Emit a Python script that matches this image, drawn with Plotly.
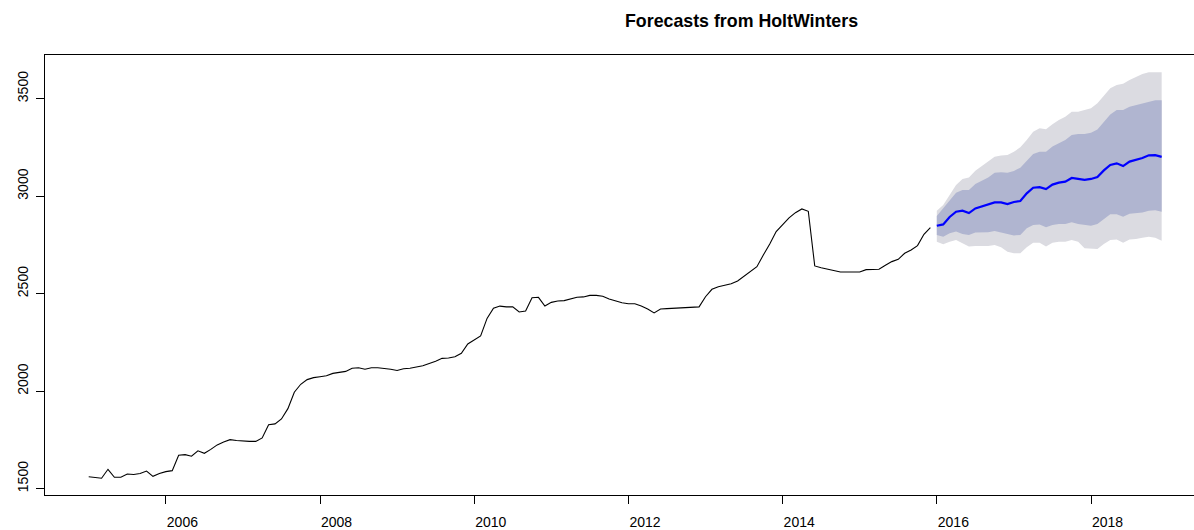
import plotly.graph_objects as go
import numpy as np

# Observed monthly series, Jan 2005 .. Dec 2015
obs_start = 2005.0
observed = [
    1563, 1560, 1555, 1601, 1560, 1560, 1577, 1574, 1579, 1592, 1565, 1579,
    1589, 1594, 1673, 1676, 1668, 1696, 1683, 1703, 1726, 1741, 1753, 1749,
    1746, 1744, 1744, 1762, 1830, 1834, 1859, 1912, 1996, 2037, 2061, 2071,
    2076, 2081, 2093, 2098, 2103, 2119, 2122, 2114, 2122, 2122, 2119, 2114,
    2108, 2117, 2119, 2127, 2132, 2144, 2155, 2170, 2172, 2178, 2196, 2244,
    2264, 2285, 2375, 2427, 2438, 2434, 2434, 2408, 2413, 2481, 2483, 2438,
    2457, 2464, 2466, 2474, 2483, 2485, 2493, 2493, 2488, 2474, 2464, 2455,
    2450, 2450, 2438, 2423, 2403, 2423, 2425, 2427, 2430, 2433, 2433, 2434,
    2486, 2524, 2537, 2546, 2552, 2567, 2592, 2616, 2640, 2700, 2756, 2820,
    2857, 2890, 2917, 2936, 2924, 2644, 2635, 2628, 2619, 2613, 2613, 2613,
    2613, 2625, 2625, 2627, 2647, 2666, 2678, 2709, 2726, 2748, 2806, 2840,
]

# Forecast, Jan 2016 .. Dec 2018
fc_start = 2016.0
fc_mean = [
    2850, 2857, 2895, 2922, 2927, 2915, 2939, 2949, 2958, 2970, 2970, 2961,
    2972, 2977, 3016, 3045, 3048, 3038, 3061, 3071, 3076, 3095, 3090, 3085,
    3090, 3100, 3134, 3162, 3170, 3156, 3179, 3188, 3197, 3211, 3212, 3203,
]
fc_hi80 = [
    2900, 2939, 2982, 3019, 3033, 3033, 3064, 3081, 3098, 3122, 3124, 3122,
    3131, 3148, 3182, 3218, 3230, 3230, 3256, 3273, 3290, 3315, 3320, 3320,
    3327, 3344, 3383, 3421, 3444, 3444, 3460, 3469, 3478, 3486, 3494, 3494,
]
fc_lo80 = [
    2803, 2794, 2811, 2820, 2808, 2803, 2815, 2817, 2817, 2823, 2817, 2808,
    2800, 2803, 2837, 2854, 2857, 2842, 2854, 2859, 2859, 2868, 2859, 2854,
    2850, 2859, 2885, 2909, 2909, 2896, 2911, 2914, 2918, 2927, 2930, 2922,
]
fc_hi95 = [
    2927, 2956, 3008, 3059, 3090, 3098, 3132, 3156, 3179, 3204, 3210, 3213,
    3230, 3252, 3290, 3332, 3350, 3345, 3370, 3392, 3409, 3435, 3435, 3444,
    3452, 3478, 3516, 3555, 3572, 3578, 3597, 3611, 3628, 3637, 3637, 3637,
]
fc_lo95 = [
    2768, 2755, 2768, 2777, 2760, 2743, 2746, 2746, 2746, 2751, 2740, 2717,
    2709, 2709, 2740, 2763, 2763, 2743, 2763, 2768, 2768, 2777, 2768, 2734,
    2731, 2731, 2757, 2777, 2780, 2763, 2780, 2782, 2789, 2794, 2789, 2773,
]

x_ticks = [2006, 2008, 2010, 2012, 2014, 2016, 2018]
y_ticks = [1500, 2000, 2500, 3000, 3500]
title_text = "Forecasts from HoltWinters"

t_obs = [obs_start + i / 12 for i in range(len(observed))]
t_fc = [fc_start + i / 12 for i in range(len(fc_mean))]

FONT = "Liberation Sans, Arial, Helvetica, sans-serif"
col95 = "#DBDBE1"
col80 = "#B0B5D0"

fig = go.Figure()
# 95% band
fig.add_trace(go.Scatter(x=t_fc, y=fc_lo95, mode="lines", line=dict(width=0),
                         hoverinfo="skip", showlegend=False))
fig.add_trace(go.Scatter(x=t_fc, y=fc_hi95, mode="lines", line=dict(width=0),
                         fill="tonexty", fillcolor=col95, hoverinfo="skip", showlegend=False))
# 80% band
fig.add_trace(go.Scatter(x=t_fc, y=fc_lo80, mode="lines", line=dict(width=0),
                         hoverinfo="skip", showlegend=False))
fig.add_trace(go.Scatter(x=t_fc, y=fc_hi80, mode="lines", line=dict(width=0),
                         fill="tonexty", fillcolor=col80, hoverinfo="skip", showlegend=False))
# mean forecast
fig.add_trace(go.Scatter(x=t_fc, y=fc_mean, mode="lines",
                         line=dict(color="#0000FF", width=2.2), showlegend=False))
# observed
fig.add_trace(go.Scatter(x=t_obs, y=observed, mode="lines",
                         line=dict(color="black", width=1.1), showlegend=False))

W, H = 1194, 530
fig.update_layout(
    width=W, height=H,
    margin=dict(l=45, r=0, t=55, b=35),
    paper_bgcolor="white", plot_bgcolor="white",
    font=dict(family=FONT, size=14, color="black"),
    title=dict(text="<b>" + title_text + "</b>", x=625 / W, xanchor="left",
               xref="container", y=1 - 20.5 / H, yanchor="middle", yref="container",
               font=dict(family=FONT, size=17.8, color="black")),
    xaxis=dict(range=[2004.433, 2019.336], tickmode="array", tickvals=x_ticks,
               ticktext=[str(v) for v in x_ticks],
               showgrid=False, zeroline=False, showline=True, linecolor="black",
               linewidth=1, mirror=True, ticks="outside", ticklen=8, tickcolor="black",
               ticklabelposition="outside right", ticklabelstandoff=14),
    yaxis=dict(range=[1469.2, 3725.6], tickmode="array", tickvals=y_ticks,
               ticktext=[str(v) for v in y_ticks],
               showgrid=False, zeroline=False, showline=True, linecolor="black",
               linewidth=1, ticks="outside", ticklen=8, tickcolor="black",
               tickangle=-90, ticklabelposition="outside top", ticklabelstandoff=10),
)
fig.write_html("out.html")
